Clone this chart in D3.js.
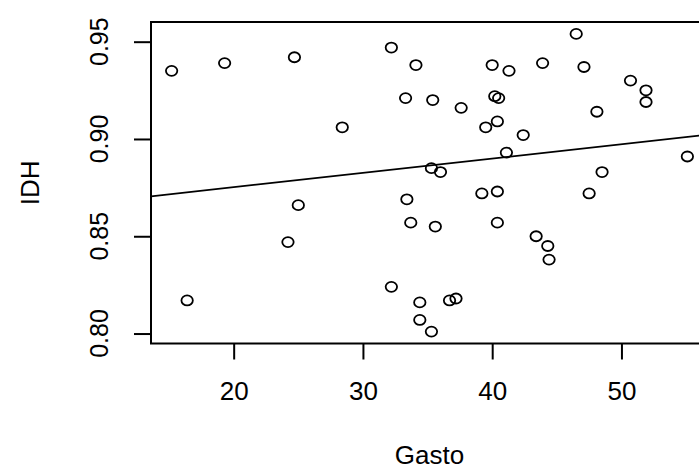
<!DOCTYPE html>
<html>
<head>
<meta charset="utf-8">
<script src="https://cdn.jsdelivr.net/npm/d3@7"></script>
<style>
  body { margin: 0; background: #fff; }
  text { font-family: "Liberation Sans", Arial, sans-serif; fill: #000; }
</style>
</head>
<body>
<script>
// Gasto (x) and IDH (y) for each country
var gasto = [15.2, 19.3, 24.7, 28.4, 32.2, 34.1, 33.3, 35.4, 37.6, 40.0, 41.3, 43.9,
  46.5, 47.1, 50.7, 51.9, 51.9, 40.2, 40.5, 40.4, 39.5, 42.4, 48.1, 41.1,
  35.3, 36.0, 48.5, 55.1, 33.4, 39.2, 40.4, 47.5, 33.7, 35.6, 40.4, 43.4,
  44.3, 44.4, 32.2, 34.4, 36.7, 37.2, 34.4, 35.3, 25.0, 24.2, 16.4];
var idh = [0.935, 0.939, 0.942, 0.906, 0.947, 0.938, 0.921, 0.920, 0.916, 0.938, 0.935, 0.939,
  0.954, 0.937, 0.930, 0.925, 0.919, 0.922, 0.921, 0.909, 0.906, 0.902, 0.914, 0.893,
  0.885, 0.883, 0.883, 0.891, 0.869, 0.872, 0.873, 0.872, 0.857, 0.855, 0.857, 0.850,
  0.845, 0.838, 0.824, 0.816, 0.817, 0.818, 0.807, 0.801, 0.866, 0.847, 0.817];

var xTicks = [20, 30, 40, 50];
var yTicks = [0.80, 0.85, 0.90, 0.95];

// fitted line lm(IDH ~ Gasto)
var intercept = 0.8605, slope = 0.000736;

var W = 699, H = 470;
var svg = d3.select("body").append("svg").attr("width", W).attr("height", H);

// R pads the data range by 4% on each side
function pad(ext){ var r = ext[1] - ext[0]; return [ext[0] - 0.04*r, ext[1] + 0.04*r]; }

var x = d3.scaleLinear().domain(pad(d3.extent(gasto))).range([151, 708]);
var y = d3.scaleLinear().domain(pad(d3.extent(idh))).range([343.5, 22]);

var xd = x.domain(), yr = y.range();

// x axis
var xa = svg.append("g").attr("transform", "translate(0," + yr[0] + ")")
  .call(d3.axisBottom(x).tickValues(xTicks).tickSize(16).tickSizeOuter(0).tickPadding(22).tickFormat(d3.format("d")));
xa.select(".domain").remove();
xa.selectAll("line").attr("stroke", "#000").attr("stroke-width", 2);
xa.selectAll("text").style("font-size", "26px").attr("font-family", null);

// y axis, labels rotated like R's las=0
var ya = svg.append("g").attr("transform", "translate(" + x.range()[0] + ",0)")
  .call(d3.axisLeft(y).tickValues(yTicks).tickSize(17).tickSizeOuter(0).tickFormat(""));
ya.select(".domain").remove();
ya.selectAll("line").attr("stroke", "#000").attr("stroke-width", 2);

svg.selectAll(".ylab").data(yTicks).join("text").attr("class", "ylab")
  .attr("transform", d => "translate(108," + y(d) + ") rotate(-90)")
  .attr("text-anchor", "middle")
  .style("font-size", "25px")
  .text(d3.format(".2f"));

// box
svg.append("rect")
  .attr("x", x.range()[0]).attr("y", yr[1])
  .attr("width", x.range()[1] - x.range()[0]).attr("height", yr[0] - yr[1])
  .attr("fill", "none").attr("stroke", "#000").attr("stroke-width", 2);

// regression line
svg.append("clipPath").attr("id", "clip").append("rect")
  .attr("x", x.range()[0]).attr("y", yr[1])
  .attr("width", x.range()[1] - x.range()[0]).attr("height", yr[0] - yr[1]);

svg.append("line")
  .attr("clip-path", "url(#clip)")
  .attr("x1", x(xd[0])).attr("y1", y(intercept + slope*xd[0]))
  .attr("x2", x(xd[1])).attr("y2", y(intercept + slope*xd[1]))
  .attr("stroke", "#000").attr("stroke-width", 1.8);

// points
svg.selectAll(".pt").data(gasto).join("ellipse").attr("class", "pt")
  .attr("cx", (d, i) => x(d))
  .attr("cy", (d, i) => y(idh[i]))
  .attr("rx", 5.7).attr("ry", 5)
  .attr("fill", "none").attr("stroke", "#000").attr("stroke-width", 1.8);

// axis titles
svg.append("text").attr("x", (x.range()[0] + x.range()[1]) / 2).attr("y", 464)
  .attr("text-anchor", "middle").style("font-size", "26px").text("Gasto");

svg.append("text")
  .attr("transform", "translate(39," + (yr[0] + yr[1]) / 2 + ") rotate(-90)")
  .attr("text-anchor", "middle").style("font-size", "26px").text("IDH");
</script>
</body>
</html>
